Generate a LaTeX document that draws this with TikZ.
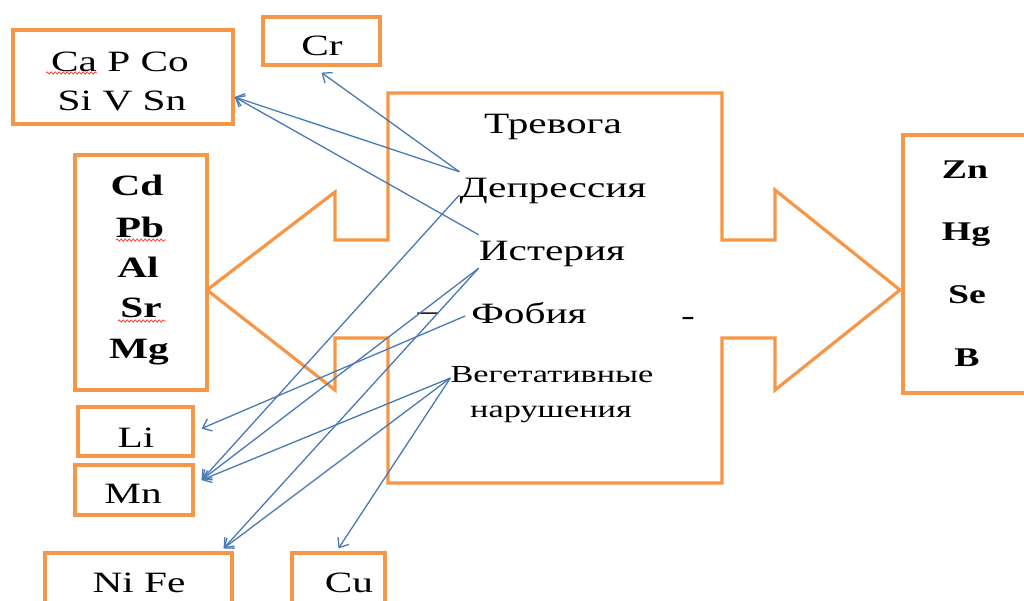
\documentclass[tikz,border=0pt]{standalone}
\usepackage{fontspec}
\setmainfont{Liberation Serif}[FakeStretch=1.4]
\usetikzlibrary{arrows.meta,decorations.pathmorphing}
\definecolor{orng}{HTML}{F79646}
\definecolor{blu}{HTML}{4A7AB5}
\tikzset{
  ebox/.style={draw=orng, line width=3.2pt, inner sep=0pt},
  txt/.style={inner sep=0pt, anchor=base, text height=20pt, text depth=6pt,
    font=\fontsize{29.5}{34}\selectfont},
  btxt/.style={txt, font=\fontsize{29.5}{34}\selectfont\bfseries},
  ztxt/.style={txt, font=\fontsize{27}{32}\selectfont\bfseries},
  stxt/.style={txt, font=\fontsize{24.5}{28}\selectfont},
  link/.style={draw=blu, line width=1.3pt, -{Straight Barb[length=8pt,width=13pt]}},
  spell/.style={draw=red!80, line width=0.7pt, decorate,
    decoration={snake, amplitude=1.2pt, segment length=4pt}},
  bigarrow/.style={draw=orng, line width=3.2pt, line join=miter}
}
\begin{document}
\begin{tikzpicture}[x=1pt,y=-1pt]
\useasboundingbox (0,0) rectangle (1024,600);
\fill[white] (0,0) rectangle (1024,600);
\clip (0,0) rectangle (1024,600);

% central double arrow shape
\draw[bigarrow] (388,93) -- (722,93) -- (722,240) -- (775,240) -- (775,190)
  -- (900,290) -- (775,390) -- (775,338) -- (722,338) -- (722,483)
  -- (388,483) -- (388,338) -- (335,338) -- (335,390) -- (207,290)
  -- (335,192) -- (335,240) -- (388,240) -- cycle;

% element boxes
\node[ebox, minimum width=220pt, minimum height=94pt] (capco) at (123,77) {};
\node[ebox, minimum width=117pt, minimum height=48pt] (cr) at (321.5,41) {};
\node[ebox, minimum width=132pt, minimum height=235pt] (cd) at (141,272.5) {};
\node[ebox, minimum width=115pt, minimum height=49pt] (li) at (135.5,431.5) {};
\node[ebox, minimum width=118pt, minimum height=50pt] (mn) at (134,490) {};
\node[ebox, minimum width=187pt, minimum height=87pt] (nife) at (138.5,596.5) {};
\node[ebox, minimum width=93pt, minimum height=87pt] (cu) at (338.5,596.5) {};
\node[ebox, minimum width=137pt, minimum height=258pt] (zn) at (971.5,264) {};

% element texts
\node[txt] (tcapco) at (120,71) {Ca P Co};
\node[txt] (tsivsn) at (122,110) {Si V Sn};
\node[txt] (tcr) at (322,55) {Cr};
\node[btxt] (tcd) at (137,195) {Cd};
\node[btxt] (tpb) at (140,237) {Pb};
\node[btxt] (tal) at (138,277) {Al};
\node[btxt] (tsr) at (141,317) {Sr};
\node[btxt] (tmg) at (139,358) {Mg};
\node[txt] (tli) at (136,447) {Li};
\node[txt] (tmn) at (133,503) {Mn};
\node[txt] (tnife) at (139,592) {Ni Fe};
\node[txt] (tcu) at (349,592) {Cu};
\node[ztxt] (tzn) at (965,178) {Zn};
\node[ztxt] (thg) at (966,240) {Hg};
\node[ztxt] (tse) at (967,303) {Se};
\node[ztxt] (tb) at (967,366) {B};

% spell-check underlines
\draw[spell] (46,73) -- (97,73);
\draw[spell] (116,240) -- (166,240);
\draw[spell] (118,321) -- (166,321);

% central texts
\node[txt] (trev) at (553,133) {Тревога};
\node[txt] (dep) at (553,197) {Депрессия};
\node[txt] (ist) at (552,260) {Истерия};
\node[txt] (fob) at (529,323) {Фобия};
\node[txt] (dasha) at (428,320) {–};
\node[txt] (dashb) at (688,325) {-};
\node[stxt] (veg) at (552,382) {Вегетативные};
\node[stxt] (nar) at (551,417) {нарушения};

% connectors
\draw[link] ([yshift=5pt]dep.north west) -- ([yshift=-6pt]cr.south);
\draw[link] ([yshift=5pt]dep.north west) -- ([yshift=-20pt]capco.east);
\draw[link] ([yshift=-5pt]dep.west) -- ([shift={(7pt,10pt)}]mn.east);
\draw[link] ([yshift=5pt]ist.north west) -- ([yshift=-20pt]capco.east);
\draw[link] ([yshift=-2pt]ist.south west) -- ([shift={(7pt,10pt)}]mn.east);
\draw[link] ([yshift=-2pt]ist.south west) -- ([shift={(-10pt,3pt)}]nife.north east);
\draw[link] ([xshift=-6pt]fob.west) -- ([shift={(7pt,3pt)}]li.east);
\draw[link] ([yshift=-3pt]veg.west) -- ([shift={(7pt,10pt)}]mn.east);
\draw[link] ([yshift=-3pt]veg.west) -- ([shift={(-10pt,3pt)}]nife.north east);
\draw[link] ([yshift=-3pt]veg.west) -- ([yshift=3pt]cu.north);
\end{tikzpicture}
\end{document}
